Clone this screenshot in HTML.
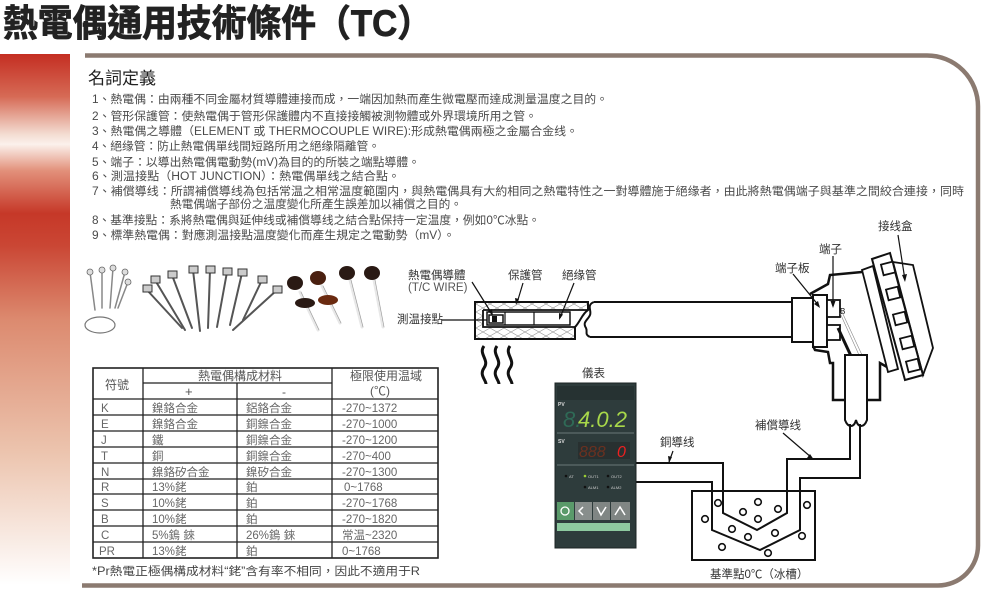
<!DOCTYPE html>
<html><head><meta charset="utf-8"><style>
html,body{margin:0;padding:0;background:#fff;}
svg{display:block;}
text{font-family:"Liberation Sans","Noto Sans CJK TC",sans-serif;}
</style></head><body>
<svg width="1000" height="613" viewBox="0 0 1000 613" xmlns="http://www.w3.org/2000/svg">
<defs>
<linearGradient id="rb" x1="0" y1="0" x2="0" y2="1">
<stop offset="0" stop-color="#c42e22"/>
<stop offset="0.08" stop-color="#d66a55"/>
<stop offset="0.15" stop-color="#f3dbd0"/>
<stop offset="0.17" stop-color="#fbf1ec"/>
<stop offset="0.22" stop-color="#e2907a"/>
<stop offset="0.3" stop-color="#c63828"/>
<stop offset="0.36" stop-color="#ca4634"/>
<stop offset="0.5" stop-color="#dc8a6f"/>
<stop offset="0.75" stop-color="#ecc4ae"/>
<stop offset="1" stop-color="#ffffff"/>
</linearGradient>
<pattern id="hx" width="14" height="8" patternUnits="userSpaceOnUse">
<path d="M0,0 L14,8 M14,0 L0,8" stroke="#999" stroke-width="0.6"/>
</pattern>
</defs>

<text x="3" y="36" font-size="37" font-weight="bold" fill="#222" stroke="#222" stroke-width="0.8" textLength="429" lengthAdjust="spacingAndGlyphs">熱電偶通用技術條件（TC）</text>

<rect x="0" y="54" width="70" height="531" fill="url(#rb)"/>

<path d="M85,55.5 H927 A51,51 0 0 1 978,106.5 V545 A40,40 0 0 1 938,585.5 H82" fill="none" stroke="#8b7a70" stroke-width="4.5"/>

<text x="88" y="84" font-size="17" fill="#222">名詞定義</text>
<g font-size="11.5" fill="#4a4a4a">
<text x="92" y="103" textLength="516" lengthAdjust="spacingAndGlyphs">1、熱電偶：由兩種不同金屬材質導體連接而成，一端因加熱而產生微電壓而達成測量温度之目的。</text>
<text x="92" y="120" textLength="445" lengthAdjust="spacingAndGlyphs">2、管形保護管：使熱電偶于管形保護體内不直接接觸被測物體或外界環境所用之管。</text>
<text x="92" y="135" textLength="486" lengthAdjust="spacingAndGlyphs">3、熱電偶之導體（ELEMENT 或 THERMOCOUPLE WIRE):形成熱電偶兩極之金屬合金线。</text>
<text x="92" y="150" textLength="288" lengthAdjust="spacingAndGlyphs">4、絕缘管：防止熱電偶單线間短路所用之絕缘隔離管。</text>
<text x="92" y="166" textLength="328" lengthAdjust="spacingAndGlyphs">5、端子：以導出熱電偶電動勢(mV)為目的的所裝之端點導體。</text>
<text x="92" y="180" textLength="308" lengthAdjust="spacingAndGlyphs">6、測温接點（HOT JUNCTION）：熱電偶單线之結合點。</text>
<text x="92" y="195" textLength="872" lengthAdjust="spacingAndGlyphs">7、補償導线：所謂補償導线為包括常温之相常温度範圍内，與熱電偶具有大約相同之熱電特性之一對導體施于絕缘者，由此將熱電偶端子與基準之間絞合連接，同時</text>
<text x="170" y="208" textLength="292" lengthAdjust="spacingAndGlyphs">熱電偶端子部份之温度變化所產生誤差加以補償之目的。</text>
<text x="92" y="224" textLength="448" lengthAdjust="spacingAndGlyphs">8、基準接點：系將熱電偶與延伸线或補償導线之結合點保持一定温度，例如0℃冰點。</text>
<text x="92" y="239" textLength="363" lengthAdjust="spacingAndGlyphs">9、標準熱電偶：對應測温接點温度變化而產生規定之電動勢（mV）。</text>
</g>

<g stroke-linecap="round">
<g stroke="#888" stroke-width="1.5">
<line x1="90" y1="272" x2="95" y2="310"/><line x1="102" y1="270" x2="102" y2="308"/><line x1="113" y1="268" x2="110" y2="308"/><line x1="125" y1="272" x2="115" y2="308"/><line x1="128" y1="282" x2="118" y2="308"/>
</g>
<g fill="#ddd" stroke="#666" stroke-width="0.8">
<circle cx="90" cy="272" r="3"/><circle cx="102" cy="270" r="3"/><circle cx="113" cy="268" r="3"/><circle cx="125" cy="272" r="3"/><circle cx="128" cy="282" r="3"/>
</g>
<ellipse cx="100" cy="325" rx="15" ry="8" fill="none" stroke="#777" stroke-width="1.2"/>
<g stroke="#555" stroke-width="2">
<line x1="147" y1="290" x2="182" y2="328"/><line x1="155" y1="280" x2="185" y2="330"/><line x1="172" y1="275" x2="192" y2="328"/><line x1="193" y1="270" x2="200" y2="331"/><line x1="210" y1="270" x2="208" y2="328"/><line x1="227" y1="272" x2="217" y2="327"/><line x1="242" y1="273" x2="230" y2="325"/><line x1="262" y1="280" x2="243" y2="320"/><line x1="277" y1="290" x2="233" y2="330"/>
</g>
<g fill="#ccc" stroke="#333" stroke-width="1">
<rect x="143" y="285" width="9" height="7"/><rect x="151" y="276" width="9" height="7"/><rect x="168" y="271" width="9" height="7"/><rect x="189" y="266" width="9" height="7"/><rect x="206" y="266" width="9" height="7"/><rect x="223" y="268" width="9" height="7"/><rect x="238" y="269" width="9" height="7"/><rect x="258" y="276" width="9" height="7"/><rect x="273" y="286" width="9" height="7"/>
</g>
<g stroke="#e8e8e8" stroke-width="3">
<line x1="300" y1="292" x2="318" y2="330"/><line x1="322" y1="286" x2="340" y2="323"/><line x1="350" y1="280" x2="362" y2="327"/><line x1="374" y1="280" x2="383" y2="327"/>
</g>
<g stroke="#999" stroke-width="0.6" fill="none">
<line x1="301" y1="292" x2="319" y2="330"/><line x1="323" y1="286" x2="341" y2="323"/><line x1="351" y1="280" x2="363" y2="327"/><line x1="375" y1="280" x2="384" y2="327"/>
</g>
<g fill="#2a1a14">
<ellipse cx="295" cy="283" rx="8" ry="7"/><ellipse cx="318" cy="278" rx="8" ry="7" fill="#4a2010"/><ellipse cx="347" cy="273" rx="8" ry="7"/><ellipse cx="372" cy="273" rx="8" ry="7"/>
<ellipse cx="305" cy="303" rx="10" ry="5"/><ellipse cx="328" cy="300" rx="10" ry="5" fill="#6a2a10"/>
</g>
</g>

<g stroke="#222" stroke-width="1.3" fill="none">
<rect x="93" y="368" width="345" height="190" stroke-width="1.6"/>
<line x1="143" y1="368" x2="143" y2="558"/>
<line x1="237" y1="383" x2="237" y2="558"/>
<line x1="332" y1="368" x2="332" y2="558"/>
<line x1="143" y1="383" x2="332" y2="383"/>
<line x1="93" y1="399" x2="438" y2="399"/>
<line x1="93" y1="415" x2="438" y2="415"/><line x1="93" y1="431" x2="438" y2="431"/><line x1="93" y1="447" x2="438" y2="447"/><line x1="93" y1="463" x2="438" y2="463"/><line x1="93" y1="479" x2="438" y2="479"/><line x1="93" y1="494" x2="438" y2="494"/><line x1="93" y1="510" x2="438" y2="510"/><line x1="93" y1="526" x2="438" y2="526"/><line x1="93" y1="542" x2="438" y2="542"/>
</g>
<g font-size="12" fill="#555">
<text x="105" y="389">符號</text>
<text x="198" y="380">熱電偶構成材料</text>
<text x="185" y="396" font-size="13">+</text>
<text x="282" y="396">-</text>
<text x="350" y="380">極限使用温域</text>
<text x="370" y="395">(℃)</text>
</g>
<g font-size="11.5" fill="#666">
<text x="101" y="412">K</text><text x="152" y="412">鎳鉻合金</text><text x="246" y="412">鋁鉻合金</text><text x="342" y="412">-270~1372</text>
<text x="101" y="428">E</text><text x="152" y="428">鎳鉻合金</text><text x="246" y="428">銅鎳合金</text><text x="342" y="428">-270~1000</text>
<text x="101" y="444">J</text><text x="152" y="444">鐵</text><text x="246" y="444">銅鎳合金</text><text x="342" y="444">-270~1200</text>
<text x="101" y="460">T</text><text x="152" y="460">銅</text><text x="246" y="460">銅鎳合金</text><text x="342" y="460">-270~400</text>
<text x="101" y="476">N</text><text x="152" y="476">鎳鉻矽合金</text><text x="246" y="476">鎳矽合金</text><text x="342" y="476">-270~1300</text>
<text x="101" y="491">R</text><text x="152" y="491">13%銠</text><text x="246" y="491">鉑</text><text x="344" y="491">0~1768</text>
<text x="101" y="507">S</text><text x="152" y="507">10%銠</text><text x="246" y="507">鉑</text><text x="342" y="507">-270~1768</text>
<text x="101" y="523">B</text><text x="152" y="523">10%銠</text><text x="246" y="523">鉑</text><text x="342" y="523">-270~1820</text>
<text x="101" y="539">C</text><text x="152" y="539">5%鎢 錸</text><text x="246" y="539">26%鎢 錸</text><text x="342" y="539">常温~2320</text>
<text x="99" y="555">PR</text><text x="152" y="555">13%銠</text><text x="246" y="555">鉑</text><text x="342" y="555">0~1768</text>
</g>
<text x="92" y="575" font-size="11.5" fill="#444" textLength="328" lengthAdjust="spacingAndGlyphs">*Pr熱電正極偶構成材料“銠”含有率不相同，因此不適用于R</text>

<rect x="475" y="302" width="113" height="8" fill="url(#hx)"/>
<rect x="475" y="327" width="100" height="12" fill="url(#hx)"/>
<rect x="475" y="310" width="8" height="17" fill="url(#hx)"/>
<path d="M475,302 H588 V310 C582,314 580,322 575,327 V339 H475 Z" fill="none" stroke="#111" stroke-width="2"/>
<path d="M483,310 H588 M483,310 V327 H575" fill="none" stroke="#111" stroke-width="1.8"/>
<rect x="487" y="312" width="83" height="13" fill="#fff" stroke="#111" stroke-width="1.5"/>
<line x1="505" y1="312" x2="505" y2="325" stroke="#111" stroke-width="1.2"/>
<line x1="534" y1="312" x2="534" y2="325" stroke="#111" stroke-width="1.2"/>
<rect x="489" y="315" width="14" height="8" fill="#fff" stroke="#111" stroke-width="1.5"/>
<rect x="492" y="316" width="5" height="6" fill="#111"/>
<path d="M594,302 H792 M590,337 H792" stroke="#111" stroke-width="2" fill="none"/>
<path d="M594,302 C586,305 592,311 590,315 C588,320 582,322 586,328 C588,332 584,334 590,337" stroke="#111" stroke-width="2" fill="none"/>
<g stroke="#111" stroke-width="3" fill="none">
<path d="M484,346 C478,354 490,360 484,368 C479,375 486,380 486,384"/>
<path d="M497,346 C491,354 503,360 497,368 C492,375 499,380 499,384"/>
<path d="M510,346 C504,354 516,360 510,368 C505,375 512,380 512,384"/>
</g>

<rect x="792" y="298" width="21" height="44" fill="#fff" stroke="#111" stroke-width="2"/>
<rect x="813" y="295" width="14" height="52" fill="#fff" stroke="#111" stroke-width="2"/>
<rect x="827" y="300" width="13" height="17" fill="#fff" stroke="#111" stroke-width="1.8"/>
<rect x="827" y="325" width="13" height="15" fill="#fff" stroke="#111" stroke-width="1.8"/>
<text x="840" y="314" font-size="8" fill="#111">B</text>
<polyline points="810,294 828,284 830,275 862,272" fill="none" stroke="#111" stroke-width="2.5"/>
<polyline points="813,346 815,350 828,352 830,363 833,363 833,400 880,400 880,363 887,367" fill="none" stroke="#111" stroke-width="2.5"/>
<line x1="840" y1="313" x2="859" y2="355" stroke="#888" stroke-width="0.6"/>
<line x1="842" y1="312" x2="862" y2="355" stroke="#888" stroke-width="0.6"/>
<line x1="838" y1="328" x2="851" y2="356" stroke="#111" stroke-width="3"/>
<polygon points="862,270 873,266 898,369 888,372" fill="#fff" stroke="#111" stroke-width="1.8"/>
<polygon points="893,262 913,265 933,348 923,375" fill="#fff" stroke="#111" stroke-width="1.8"/>
<polygon points="872,259 890,253 923,375 905,380" fill="#fff" stroke="#111" stroke-width="2"/>
<g fill="#fff" stroke="#111" stroke-width="1.8">
<rect x="882" y="263" width="12" height="11" transform="rotate(-14 888 268)"/>
<rect x="887" y="288" width="12" height="11" transform="rotate(-14 893 293)"/>
<rect x="894" y="313" width="12" height="11" transform="rotate(-14 900 318)"/>
<rect x="901" y="337" width="12" height="11" transform="rotate(-14 907 342)"/>
<rect x="907" y="360" width="12" height="11" transform="rotate(-14 913 365)"/>
</g>
<path d="M845,355 V420 C848,428 854,428 856,420 C858,428 864,428 867,420 V355 Z" fill="#fff" stroke="#111" stroke-width="2"/>

<polyline points="636,463 723,463 723,513 757,530 787,513 787,459 850,459 850,424" fill="none" stroke="#111" stroke-width="2"/>
<polyline points="636,482 712,482 712,530 760,550 800,530 800,478 860,478 860,424" fill="none" stroke="#111" stroke-width="2"/>
<rect x="692" y="491" width="123" height="69" fill="none" stroke="#111" stroke-width="2"/>
<g fill="#fff" stroke="#111" stroke-width="1.6">
<circle cx="718" cy="503" r="3.3"/><circle cx="758" cy="502" r="3.3"/><circle cx="778" cy="509" r="3.3"/><circle cx="807" cy="505" r="3.3"/><circle cx="705" cy="519" r="3.3"/><circle cx="743" cy="512" r="3.3"/><circle cx="758" cy="519" r="3.3"/><circle cx="732" cy="529" r="3.3"/><circle cx="748" cy="537" r="3.3"/><circle cx="775" cy="533" r="3.3"/><circle cx="802" cy="536" r="3.3"/><circle cx="722" cy="547" r="3.3"/><circle cx="768" cy="553" r="3.3"/>
</g>

<rect x="555" y="383" width="81" height="165" fill="#2e3c3c" stroke="#1c2424" stroke-width="1"/>
<rect x="557" y="386" width="77" height="14" fill="#263232"/>
<text x="558" y="406" font-size="5" fill="#ddd" font-weight="bold">PV</text>
<g font-family="Liberation Mono" font-size="22" font-style="italic">
<text x="563" y="427" fill="#2f6a56">8.</text>
<text x="578" y="427" fill="#a8d84a">4.0.2</text>
</g>
<line x1="557" y1="433" x2="634" y2="433" stroke="#6a7878" stroke-width="1"/>
<text x="558" y="443" font-size="5" fill="#ddd" font-weight="bold">SV</text>
<rect x="578" y="442" width="52" height="17" fill="#283030"/>
<g font-family="Liberation Mono" font-size="16" font-style="italic">
<text x="579" y="457" fill="#6a3020">888</text>
<text x="617" y="457" fill="#ee2020">0</text>
</g>
<line x1="557" y1="465" x2="634" y2="465" stroke="#6a7878" stroke-width="1"/>
<g font-size="4" fill="#ccc">
<circle cx="566" cy="476" r="1.3" fill="#111"/><text x="569" y="478">AT</text>
<circle cx="585" cy="476" r="1.3" fill="#9c3"/><text x="588" y="478">OUT1</text>
<circle cx="608" cy="476" r="1.3" fill="#111"/><text x="611" y="478">OUT2</text>
<circle cx="585" cy="487" r="1.3" fill="#111"/><text x="588" y="489">ALM1</text>
<circle cx="608" cy="487" r="1.3" fill="#111"/><text x="611" y="489">ALM2</text>
</g>
<rect x="557" y="502" width="17" height="18" fill="#5a9a6a"/>
<rect x="575" y="502" width="17" height="18" fill="#888e8c"/>
<rect x="593" y="502" width="17" height="18" fill="#808684"/>
<rect x="611" y="502" width="19" height="18" fill="#808684"/>
<path d="M597,507 L601,515 L606,507 M615,515 L620,507 L625,515" stroke="#fff" stroke-width="1.5" fill="none"/>
<path d="M583,507 L579,511 L583,515" stroke="#fff" stroke-width="1.5" fill="none"/>
<circle cx="565" cy="511" r="4" fill="none" stroke="#fff" stroke-width="1.3"/>
<rect x="557" y="523" width="73" height="8" fill="#8ecaa0"/>

<g font-size="11.5" fill="#333">
<text x="878" y="230">接线盒</text>
<text x="819" y="253">端子</text>
<text x="775" y="272">端子板</text>
<text x="408" y="279">熱電偶導體</text>
<text x="408" y="291" fill="#555">(T/C WIRE)</text>
<text x="508" y="279">保護管</text>
<text x="562" y="279">絕缘管</text>
<text x="397" y="323">測温接點</text>
<text x="582" y="377">儀表</text>
<text x="660" y="446">銅導线</text>
<text x="755" y="429">補償導线</text>
<text x="710" y="578">基準點0℃（冰槽）</text>
</g>
<g stroke="#111" stroke-width="1.2" fill="none">
<line x1="898" y1="235" x2="905" y2="280"/>
<line x1="833" y1="256" x2="833" y2="306"/>
<line x1="793" y1="274" x2="819" y2="306"/>
<line x1="472" y1="282" x2="492" y2="314"/>
<line x1="523" y1="283" x2="517" y2="303"/>
<line x1="574" y1="283" x2="560" y2="318"/>
<line x1="442" y1="320" x2="487" y2="320"/>
<line x1="673" y1="451" x2="669" y2="462"/>
<line x1="783" y1="433" x2="812" y2="458"/>
</g>
<g fill="#111">
<path d="M905,282 l-3,-7 l5,-1 z"/>
<path d="M833,308 l-2.5,-7 h5 z"/>
<path d="M820,308 l-6,-4 l4,-3 z"/>
<path d="M493,316 l-5,-5 l4,-2 z"/>
<path d="M516,305 l-1,-7 l4,1 z"/>
<path d="M559,320 l0,-7 l4,1.5 z"/>
<path d="M669,463 l-1,-7 l4,1 z"/>
<path d="M814,460 l-7,-2 l3,-4 z"/>
</g>
</svg>
</body></html>
